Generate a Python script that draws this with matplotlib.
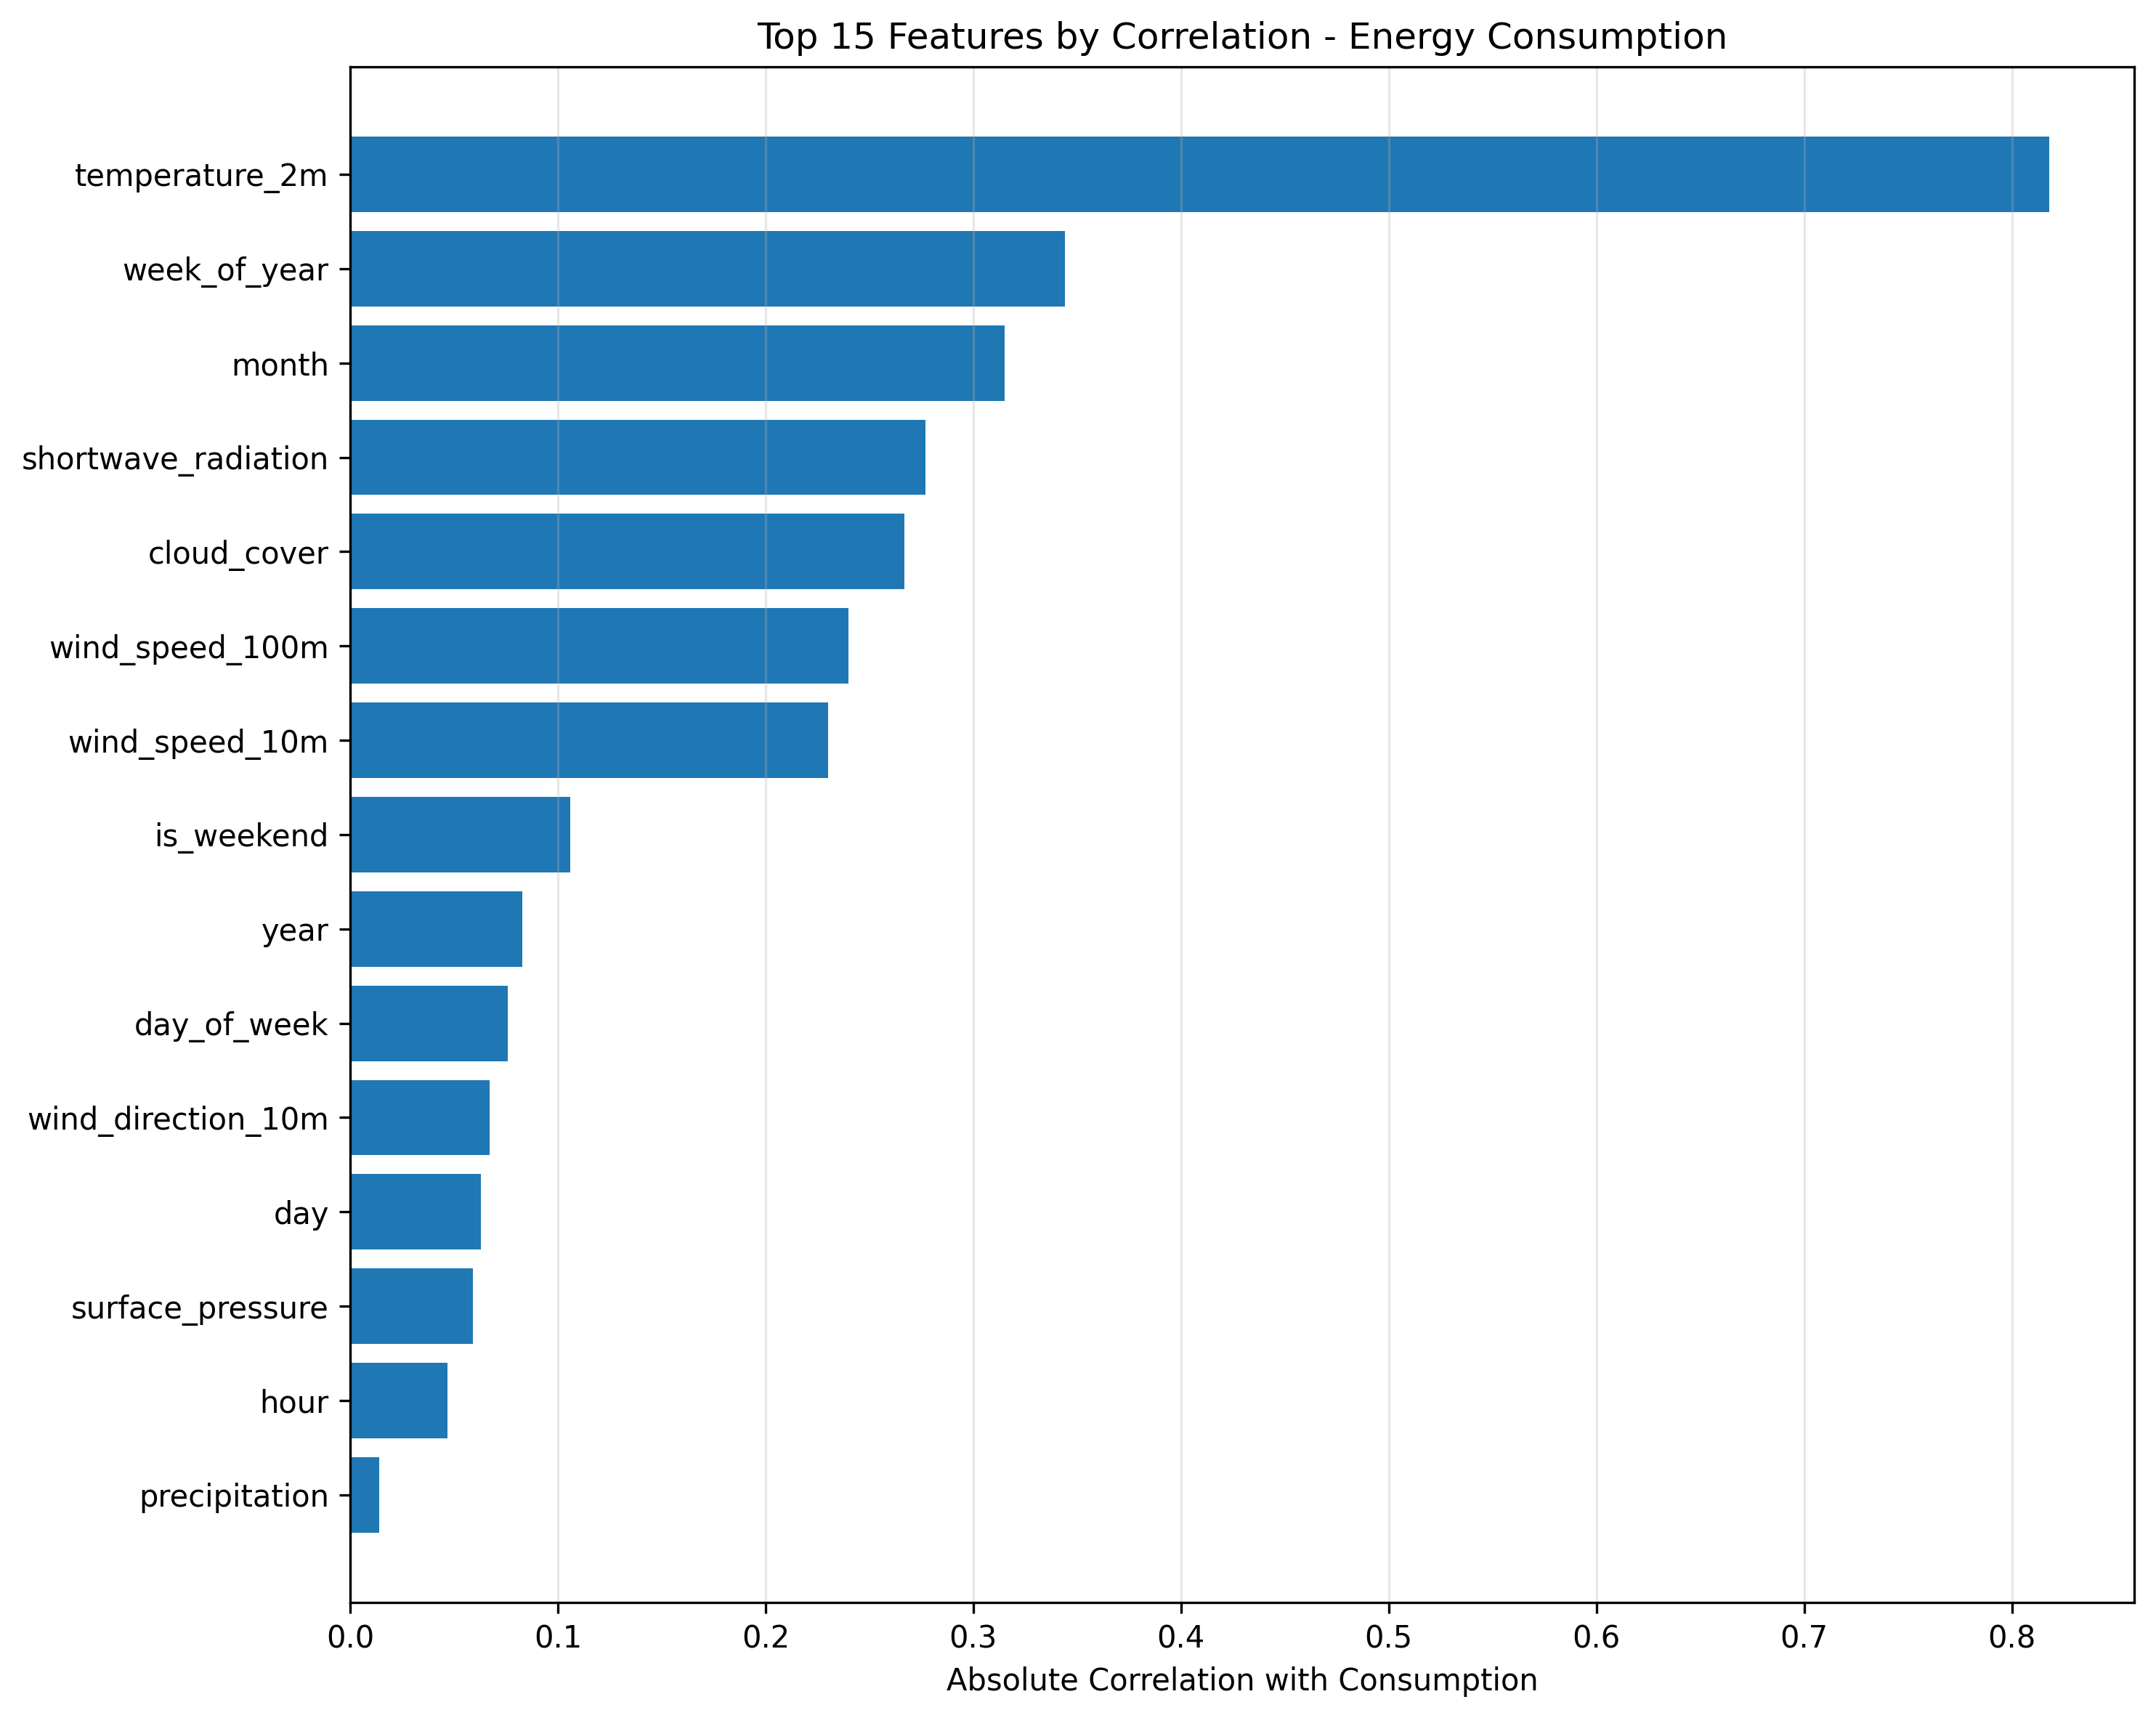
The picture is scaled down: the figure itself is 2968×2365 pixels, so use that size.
import matplotlib
matplotlib.use("Agg")
import matplotlib.pyplot as plt

# feature correlations, strongest first
features = ["temperature_2m", "week_of_year", "month", "shortwave_radiation",
            "cloud_cover", "wind_speed_100m", "wind_speed_10m", "is_weekend",
            "year", "day_of_week", "wind_direction_10m", "day",
            "surface_pressure", "hour", "precipitation"]
correlations = [0.818, 0.344, 0.315, 0.277, 0.267, 0.240, 0.230, 0.106,
                0.083, 0.076, 0.067, 0.063, 0.059, 0.047, 0.014]

fig, ax = plt.subplots(figsize=(2968 / 300, 2365 / 300), dpi=300)

# plot weakest at the bottom
ax.barh(features[::-1], correlations[::-1], color="#1f77b4")
ax.set_xlabel("Absolute Correlation with Consumption")
ax.set_title("Top 15 Features by Correlation - Energy Consumption")
ax.grid(axis="x", alpha=0.3)

fig.subplots_adjust(left=0.1624, right=0.9899, bottom=0.0673, top=0.9611)
fig.savefig("out.png", dpi=300)
